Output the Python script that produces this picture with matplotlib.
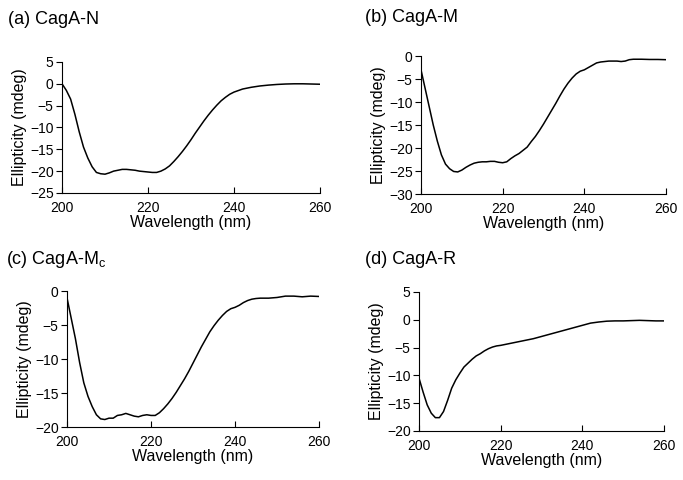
import matplotlib
matplotlib.use('Agg')
import matplotlib.pyplot as plt
import numpy as np

plt.rcParams['font.family'] = ['Liberation Sans', 'DejaVu Sans']

# (a) CagA-N
wl_a = [200, 201, 202, 203, 204, 205, 206, 207, 208, 209, 210, 211, 212, 213, 214, 215,
        216, 217, 218, 219, 220, 221, 222, 223, 224, 225, 226, 227, 228, 229, 230, 231,
        232, 233, 234, 235, 236, 237, 238, 239, 240, 242, 244, 246, 248, 250, 252, 254,
        256, 258, 260]
cd_a = [0, -1.5, -3.5, -7, -11, -14.5, -17, -19, -20.3, -20.6, -20.7, -20.4, -20, -19.8,
        -19.6, -19.6, -19.7, -19.8, -20, -20.1, -20.2, -20.3, -20.3, -20, -19.5, -18.8,
        -17.8, -16.7, -15.5, -14.2, -12.8, -11.3, -9.9, -8.5, -7.2, -6, -4.9, -3.9, -3.1,
        -2.4, -1.9, -1.2, -0.8, -0.5, -0.3, -0.15, -0.05, 0, 0, -0.05, -0.1]

# (b) CagA-M
wl_b = [200, 201, 202, 203, 204, 205, 206, 207, 208, 209, 210, 211, 212, 213, 214, 215,
        216, 217, 218, 219, 220, 221, 222, 223, 224, 225, 226, 227, 228, 229, 230, 231,
        232, 233, 234, 235, 236, 237, 238, 239, 240, 241, 242, 243, 244, 245, 246, 247,
        248, 249, 250, 251, 252, 254, 256, 258, 260]
cd_b = [-3, -7, -11, -15, -18.5, -21.5, -23.5, -24.5, -25.1, -25.2, -24.8, -24.2, -23.7,
        -23.3, -23.1, -23, -23, -22.9, -22.9, -23.1, -23.2, -23, -22.3, -21.7, -21.2,
        -20.5, -19.8, -18.6, -17.5, -16.2, -14.8, -13.3, -11.8, -10.3, -8.7, -7.2, -5.9,
        -4.8, -3.9, -3.3, -3, -2.5, -2, -1.5, -1.3, -1.2, -1.1, -1.1, -1.1, -1.2, -1.1,
        -0.8, -0.7, -0.7, -0.75, -0.75, -0.8]

# (c) CagA-Mc
wl_c = [200, 201, 202, 203, 204, 205, 206, 207, 208, 209, 210, 211, 212, 213, 214, 215,
        216, 217, 218, 219, 220, 221, 222, 223, 224, 225, 226, 227, 228, 229, 230, 231,
        232, 233, 234, 235, 236, 237, 238, 239, 240, 241, 242, 243, 244, 245, 246, 248,
        250, 252, 254, 256, 258, 260]
cd_c = [-1, -4, -7, -10.5, -13.5, -15.5, -17, -18.2, -18.8, -18.9, -18.7, -18.7, -18.3,
        -18.2, -18, -18.2, -18.4, -18.5, -18.3, -18.2, -18.3, -18.3, -17.9, -17.3, -16.6,
        -15.8, -14.9, -13.9, -12.9, -11.8, -10.6, -9.4, -8.2, -7.1, -6, -5.1, -4.3, -3.6,
        -3, -2.6, -2.4, -2.1, -1.7, -1.4, -1.2, -1.1, -1.05, -1.05, -0.95, -0.75, -0.75,
        -0.85, -0.75, -0.8]

# (d) CagA-R
wl_d = [200, 201, 202, 203, 204, 205, 206, 207, 208, 209, 210, 211, 212, 213, 214, 215,
        216, 217, 218, 219, 220, 222, 224, 226, 228, 230, 232, 234, 236, 238, 240, 242,
        244, 246, 248, 250, 252, 254, 256, 258, 260]
cd_d = [-10.5, -13, -15.3, -16.8, -17.6, -17.6, -16.5, -14.5, -12.3, -10.8, -9.6, -8.5,
        -7.8, -7.1, -6.5, -6.1, -5.6, -5.2, -4.9, -4.7, -4.6, -4.3, -4.0, -3.7, -3.4,
        -3.0, -2.6, -2.2, -1.8, -1.4, -1.0, -0.6, -0.4, -0.25, -0.2, -0.2, -0.15, -0.1,
        -0.15, -0.2, -0.2]

fig = plt.figure(figsize=(6.83, 4.8), dpi=100)

panels = [
    ([0.0908, 0.598, 0.3777, 0.2729], wl_a, cd_a, (-25, 5), np.arange(-25, 6, 5)),
    ([0.6164, 0.5958, 0.3587, 0.2875], wl_b, cd_b, (-30, 0), np.arange(-30, 1, 5)),
    ([0.0981, 0.1104, 0.369, 0.2833], wl_c, cd_c, (-20, 0), np.arange(-20, 1, 5)),
    ([0.6135, 0.1021, 0.3587, 0.2896], wl_d, cd_d, (-20, 5), np.arange(-20, 6, 5)),
]

for rect, x, y, ylim, yt in panels:
    ax = fig.add_axes(rect)
    ax.plot(x, y, color='black', linewidth=1.1)
    ax.set_xlim(200, 260)
    ax.set_ylim(*ylim)
    ax.set_xticks([200, 220, 240, 260])
    ax.set_yticks(yt)
    ax.spines['top'].set_visible(False)
    ax.spines['right'].set_visible(False)
    ax.tick_params(axis='y', direction='out', length=4, labelsize=10, pad=2)
    ax.tick_params(axis='x', direction='in', length=4, labelsize=10, pad=6)
    ax.set_xlabel('Wavelength (nm)', fontsize=11.5, labelpad=0)
    ax.set_ylabel('Ellipticity (mdeg)', fontsize=11.5, labelpad=2)

fig.text(8 / 683, 1 - 19 / 480, '(a) CagA-N', fontsize=13, va='center')
fig.text(365 / 683, 1 - 17 / 480, '(b) CagA-M', fontsize=13, va='center')
fig.text(6 / 683, 1 - 259 / 480, '(c) CagA-M$_\\mathregular{c}$', fontsize=13, va='center')
fig.text(365 / 683, 1 - 260 / 480, '(d) CagA-R', fontsize=13, va='center')

fig.savefig('out.png', dpi=100)
